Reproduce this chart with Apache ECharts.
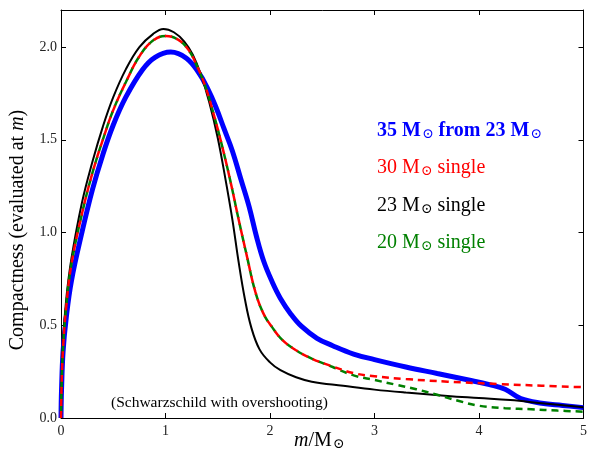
<!DOCTYPE html>
<html>
<head>
<meta charset="utf-8">
<script src="https://cdn.jsdelivr.net/npm/echarts@6/dist/echarts.min.js"></script>
<style>html,body{margin:0;padding:0;background:#fff}#c{width:590px;height:460px}</style>
</head>
<body>
<div id="c"></div>
<script>
// ---- data ----
const xTicks = [0, 1, 2, 3, 4, 5];
const yTicks = [0.0, 0.5, 1.0, 1.5, 2.0];

// 35 Msun from 23 Msun (blue)
const blueM = [0,0.005,0.02,0.05,0.1,0.2,0.3,0.4,0.5,0.62,0.78,0.9,1.05,1.2,1.32,1.4,1.48,1.56,1.64,1.72,1.8,1.87,1.94,2.02,2.1,2.2,2.3,2.45,2.6,2.8,3.0,3.3,3.6,3.9,4.1,4.25,4.4,4.6,4.8,5.0];
const blueC = [0,0.15,0.36,0.54,0.74,1.0,1.23,1.42,1.58,1.73,1.878,1.945,1.973,1.94,1.86,1.78,1.68,1.56,1.44,1.29,1.14,0.98,0.845,0.735,0.645,0.56,0.495,0.43,0.39,0.345,0.315,0.275,0.24,0.205,0.18,0.155,0.105,0.08,0.068,0.056];

// 30 Msun single (red)
const redM = [0,0.005,0.02,0.05,0.1,0.2,0.3,0.4,0.5,0.62,0.75,0.88,1.0,1.12,1.22,1.3,1.38,1.46,1.54,1.62,1.7,1.78,1.86,1.94,2.02,2.12,2.25,2.4,2.6,2.8,3.0,3.3,3.7,4.2,4.6,5.0];
const redC = [0,0.16,0.38,0.6,0.83,1.1,1.32,1.5,1.66,1.81,1.95,2.035,2.06,2.04,1.985,1.9,1.79,1.64,1.47,1.28,1.07,0.87,0.68,0.56,0.49,0.42,0.365,0.32,0.278,0.242,0.225,0.21,0.196,0.183,0.174,0.166];

// 23 Msun single (black)
const blackM = [0,0.005,0.02,0.05,0.1,0.2,0.3,0.4,0.5,0.62,0.75,0.88,0.98,1.08,1.18,1.26,1.34,1.42,1.5,1.57,1.64,1.7,1.76,1.82,1.9,2.0,2.1,2.25,2.4,2.7,3.0,3.3,3.7,4.0,4.3,4.6,5.0];
const blackC = [0,0.18,0.42,0.64,0.86,1.16,1.38,1.57,1.73,1.88,2.0,2.07,2.098,2.08,2.03,1.96,1.85,1.7,1.51,1.3,1.07,0.84,0.64,0.49,0.37,0.3,0.258,0.22,0.196,0.174,0.153,0.137,0.119,0.108,0.097,0.08,0.058];

// 20 Msun single (green)
const greenM = [0,0.005,0.02,0.05,0.1,0.2,0.3,0.4,0.5,0.62,0.75,0.88,1.0,1.12,1.22,1.3,1.38,1.46,1.54,1.62,1.7,1.78,1.86,1.94,2.02,2.12,2.25,2.4,2.6,2.8,3.0,3.2,3.4,3.6,3.8,4.0,4.25,4.5,4.75,5.0];
const greenC = [0,0.16,0.38,0.6,0.83,1.1,1.32,1.5,1.66,1.81,1.95,2.035,2.06,2.04,1.985,1.9,1.79,1.64,1.47,1.28,1.07,0.87,0.68,0.56,0.49,0.42,0.365,0.32,0.275,0.23,0.205,0.18,0.155,0.125,0.093,0.066,0.053,0.047,0.04,0.034];

const legendLabels = ['35', '30', '23', '20'];

function pairs(ms, cs) { return ms.map((m, i) => [m, cs[i]]); }

const FONT = '"Liberation Serif", "DejaVu Serif", serif';
const chart = echarts.init(document.getElementById('c'), null, {renderer: 'canvas'});

function axisCommon() {
  return {
    axisLine: {show: true, onZero: false, lineStyle: {color: '#000', width: 1}},
    axisTick: {show: true, inside: true, length: 5, lineStyle: {color: '#000', width: 1}},
    splitLine: {show: false}
  };
}

function legendText(txt, color, bold, y) {
  const fw = bold ? 'bold' : 'normal';
  const base = {fontFamily: FONT, fontSize: 20, fontWeight: fw, fill: color, verticalAlign: 'bottom'};
  const sub = {fontFamily: FONT, fontSize: 14, fontWeight: 'normal', fill: color, verticalAlign: 'bottom', padding: [7, 0, 0, 1]};
  return {
    type: 'text', left: 377, top: y,
    style: {text: txt, rich: {a: base, s: sub}, fill: color}
  };
}

const option = {
  backgroundColor: '#fff',
  animation: false,
  grid: {left: 61, right: 3, top: 10, bottom: 42, containLabel: false},
  xAxis: [
    Object.assign(axisCommon(), {
      type: 'value', min: xTicks[0], max: xTicks[xTicks.length - 1], interval: 1, position: 'bottom',
      axisLabel: {show: true, color: '#222', fontFamily: FONT, fontSize: 14, margin: 6,
        formatter: v => xTicks.includes(v) ? String(v) : ''}
    }),
    Object.assign(axisCommon(), {
      type: 'value', min: xTicks[0], max: xTicks[xTicks.length - 1], interval: 1, position: 'top',
      axisLabel: {show: false}
    })
  ],
  yAxis: [
    Object.assign(axisCommon(), {
      type: 'value', min: 0, max: 2.2, interval: 0.5, position: 'left',
      axisLabel: {show: true, color: '#222', fontFamily: FONT, fontSize: 14, margin: 4, showMaxLabel: false,
        formatter: v => yTicks.some(t => Math.abs(t - v) < 1e-9) ? v.toFixed(1) : ''}
    }),
    Object.assign(axisCommon(), {
      type: 'value', min: 0, max: 2.2, interval: 0.5, position: 'right',
      axisLabel: {show: false}
    })
  ],
  series: [
    {type: 'line', name: 'blue', data: pairs(blueM, blueC), showSymbol: false, smooth: 0.4,
      lineStyle: {color: '#0000ff', width: 5}, z: 2},
    {type: 'line', name: 'black', data: pairs(blackM, blackC), showSymbol: false, smooth: 0.4,
      lineStyle: {color: '#000', width: 2}, z: 3},
    {type: 'line', name: 'green', data: pairs(greenM, greenC), showSymbol: false, smooth: 0.4,
      lineStyle: {color: '#008000', width: 2.5, type: [7, 5], dashOffset: 6}, z: 4},
    {type: 'line', name: 'red', data: pairs(redM, redC), showSymbol: false, smooth: 0.4,
      lineStyle: {color: '#ff0000', width: 2.5, type: [7, 5], dashOffset: 0}, z: 5}
  ],
  graphic: [
    legendText('{a|' + legendLabels[0] + ' M}{s|⊙}{a| from 23 M}{s|⊙}', '#0000ff', true, 121),
    legendText('{a|' + legendLabels[1] + ' M}{s|⊙}{a| single}', '#ff0000', false, 158),
    legendText('{a|' + legendLabels[2] + ' M}{s|⊙}{a| single}', '#000000', false, 196),
    legendText('{a|' + legendLabels[3] + ' M}{s|⊙}{a| single}', '#008000', false, 233),
    {type: 'text', left: 111, top: 395,
      style: {text: '(Schwarzschild with overshooting)', fontFamily: FONT, fontSize: 15.5, fill: '#000'}},
    {type: 'text', left: 294, top: 431,
      style: {text: '{i|m}{a|/M}{s|⊙}',
        rich: {i: {fontFamily: FONT, fontStyle: 'italic', fontSize: 20, fill: '#000', verticalAlign: 'bottom'},
               a: {fontFamily: FONT, fontSize: 20, fill: '#000', verticalAlign: 'bottom'},
               s: {fontFamily: FONT, fontSize: 14, fill: '#000', verticalAlign: 'bottom', padding: [7, 0, 0, 1]}}}},
    {type: 'text', x: 8, y: 230, rotation: Math.PI / 2,
      style: {text: '{a|Compactness (evaluated at }{i|m}{a|)}', align: 'center', verticalAlign: 'top',
        rich: {i: {fontFamily: FONT, fontStyle: 'italic', fontSize: 20, fill: '#000'},
               a: {fontFamily: FONT, fontSize: 20, fill: '#000'}}}}
  ]
};
chart.setOption(option);
</script>
</body>
</html>
